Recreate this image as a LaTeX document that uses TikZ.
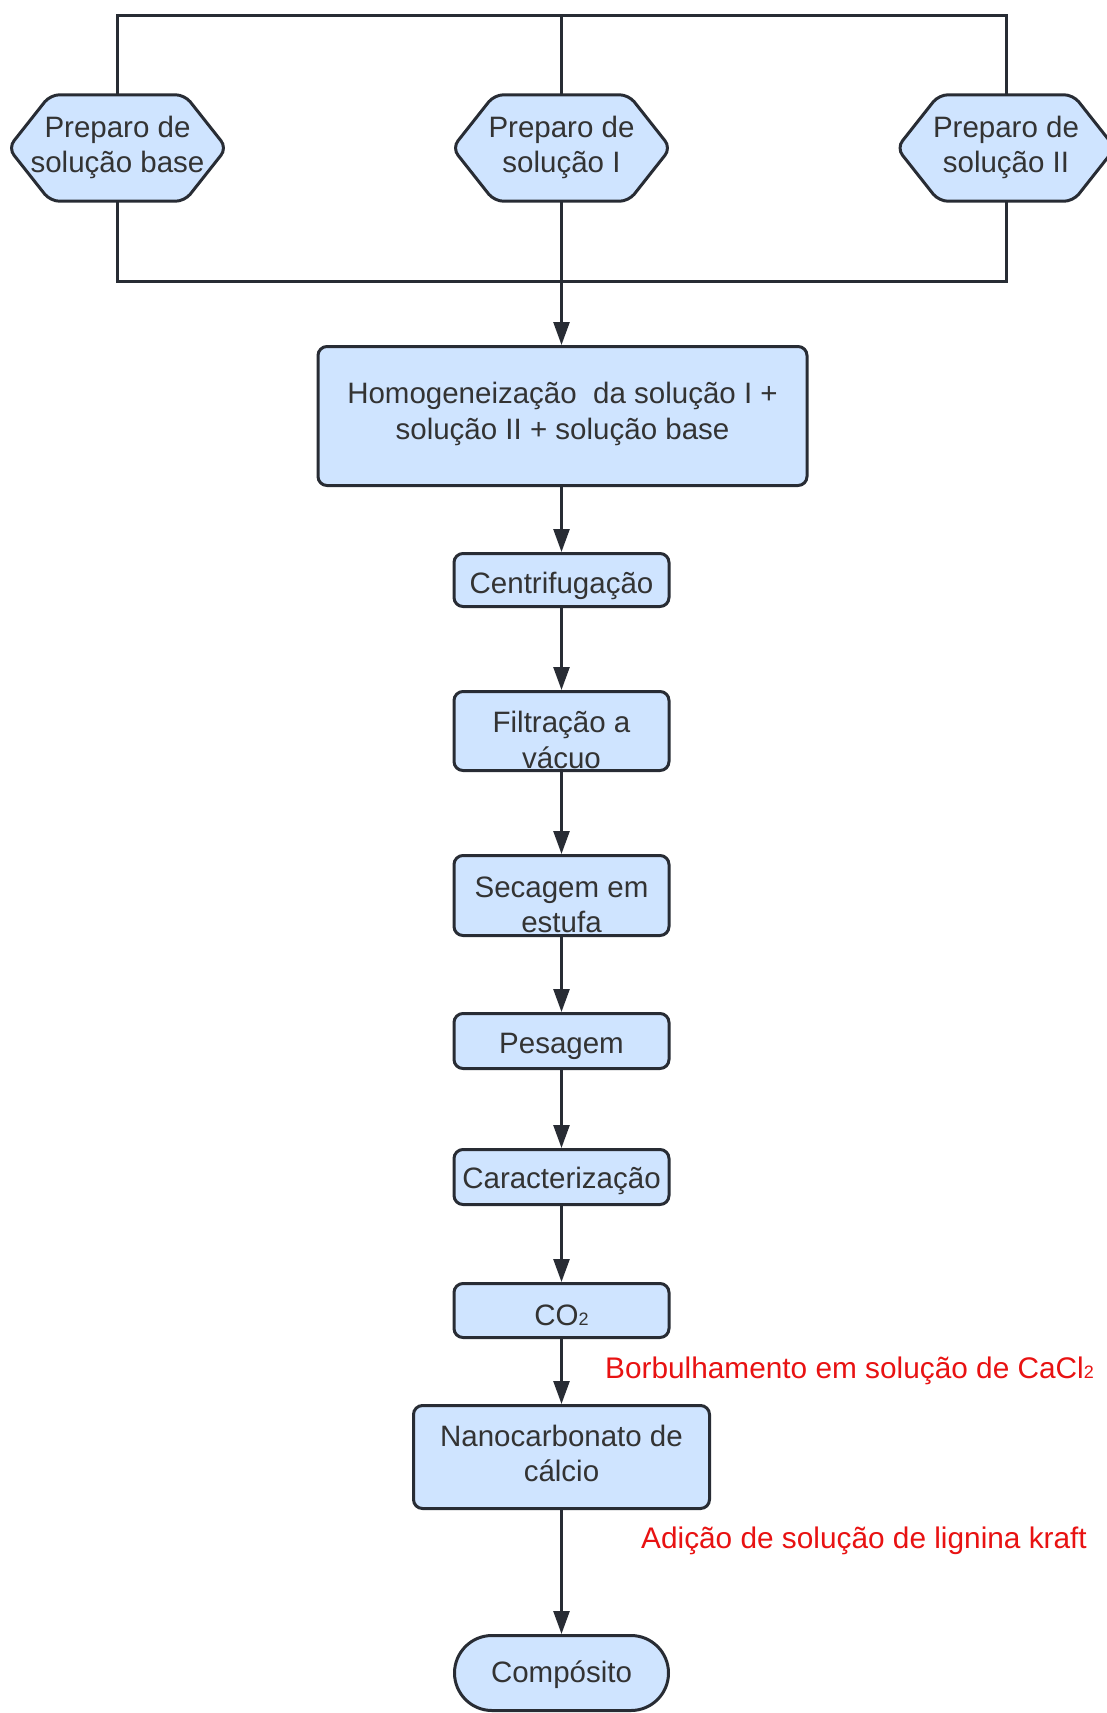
\documentclass[tikz,border=0pt]{standalone}
\usepackage{fontspec}
\setmainfont{Liberation Sans}
\usetikzlibrary{arrows.meta,shapes.misc,backgrounds}

\definecolor{boxfill}{RGB}{207,228,255}
\definecolor{edge}{RGB}{40,44,52}
\definecolor{ink}{RGB}{51,51,51}
\definecolor{note}{RGB}{232,18,18}

% centred multi-line text, shifted vertically without changing its box
\newcommand{\boxtext}[2]{\raisebox{#1pt}[\height][\depth]{\begin{tabular}{@{}c@{}}#2\end{tabular}}}
% small subscript digit sitting on the baseline
\newcommand{\subtwo}{{\fontsize{18}{18}\selectfont 2}}
% hexagonal outline around a named node
\newcommand{\hexoutline}[1]{%
  \draw[hexline] (#1.west) -- ([xshift=42]#1.north west) -- ([xshift=-42]#1.north east)
    -- (#1.east) -- ([xshift=-42]#1.south east) -- ([xshift=42]#1.south west) -- cycle;}

\tikzset{
  base/.style={font=\fontsize{29.5}{35.5}\selectfont, text=ink, inner sep=0pt},
  hexnode/.style={base, minimum width=218, minimum height=106},
  hexline/.style={draw=edge, fill=boxfill, line width=3pt, rounded corners=9pt},
  stepbox/.style={base, draw=edge, fill=boxfill, line width=3pt, rounded corners=9pt,
    minimum width=215, minimum height=#1},
  widebox/.style={base, draw=edge, fill=boxfill, line width=3pt, rounded corners=9pt},
  endbox/.style={base, draw=edge, fill=boxfill, line width=3pt, rounded rectangle,
    minimum width=214, minimum height=75},
  bracket/.style={draw=edge, line width=3pt},
  flow/.style={draw=edge, line width=2.6pt, -{Triangle[length=23pt,width=16pt]}},
  redlbl/.style={font=\fontsize{29.8}{35.5}\selectfont, text=note, inner sep=0pt}
}

\begin{document}
\begin{tikzpicture}[x=1pt,y=-1pt]
\useasboundingbox (0,0) rectangle (1107,1713);

% preparation steps
\node[hexnode] (pb)  at (117.5,148) {\boxtext{0}{Preparo de\\solução base}};
\node[hexnode] (ps1) at (561.5,148) {\boxtext{0}{Preparo de\\solução I}};
\node[hexnode] (ps2) at (1006,148)  {\boxtext{0}{Preparo de\\solução II}};
\begin{scope}[on background layer]
  \hexoutline{pb}
  \hexoutline{ps1}
  \hexoutline{ps2}
\end{scope}

% process chain
\node[widebox, minimum width=489, minimum height=139] (homog) at (562.5,416)
  {\boxtext{1.5}{Homogeneização~ da solução I +\\solução II + solução base}};
\node[stepbox=53] (centr)  at (561.5,580)    {\boxtext{-6.5}{Centrifugação}};
\node[stepbox=79] (filtr)  at (561.5,731)    {\boxtext{-12.5}{Filtração a\\vácuo}};
\node[stepbox=80] (secag)  at (561.5,895.5)  {\boxtext{-12.5}{Secagem em\\estufa}};
\node[stepbox=55] (pesag)  at (561.5,1041)   {\boxtext{-5.5}{Pesagem}};
\node[stepbox=55] (caract) at (561.5,1177)   {\boxtext{-4.5}{Caracterização}};
\node[stepbox=54] (co2)    at (561.5,1310.5) {\boxtext{-8}{CO\subtwo}};
\node[widebox, minimum width=296, minimum height=103] (nano) at (561.5,1457)
  {\boxtext{0}{Nanocarbonato de\\cálcio}};
\node[endbox] (comp) at (561.5,1673) {\boxtext{-2.5}{Compósito}};

% side notes
\node[redlbl, anchor=base west] (bubble) at (605,1378) {Borbulhamento em solução de CaCl\subtwo};
\node[redlbl, anchor=base west] (lignin) at (641,1548) {Adição de solução de lignina kraft};

% collecting brackets
\coordinate (top)  at (561.5,15);
\coordinate (join) at (561.5,281);
\draw[bracket] (pb.north) |- (top) -| (ps2.north);
\draw[bracket] (ps1.north) -- (top);
\draw[bracket] (pb.south) |- (join) -| (ps2.south);
\draw[bracket] (ps1.south) -- (join);

% arrows
\draw[flow] (join) -- (homog.north -| join);
\draw[flow] (homog.south -| join) -- (centr);
\draw[flow] (centr) -- (filtr);
\draw[flow] (filtr) -- (secag);
\draw[flow] (secag) -- (pesag);
\draw[flow] (pesag) -- (caract);
\draw[flow] (caract) -- (co2);
\draw[flow] (co2) -- (nano);
\draw[flow] (nano) -- (comp);
\end{tikzpicture}
\end{document}
